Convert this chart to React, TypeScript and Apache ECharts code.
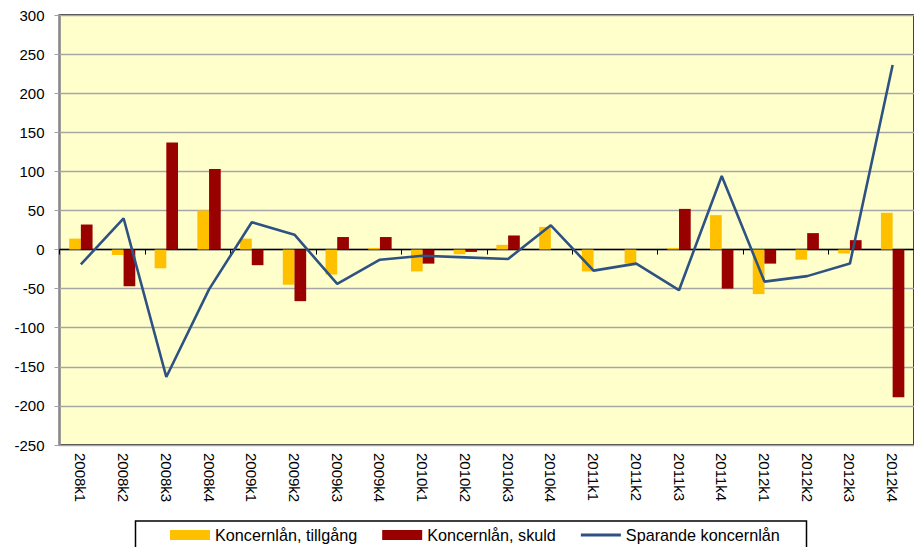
import React, { useEffect, useRef } from "react";
import * as echarts from "echarts";

const categories = [
  "2008k1", "2008k2", "2008k3", "2008k4",
  "2009k1", "2009k2", "2009k3", "2009k4",
  "2010k1", "2010k2", "2010k3", "2010k4",
  "2011k1", "2011k2", "2011k3", "2011k4",
  "2012k1", "2012k2", "2012k3", "2012k4",
];

const tillgang = [14, -7, -24, 50, 14, -45, -32, 2, -28, -6, 6, 29, -28, -18, 2, 44, -57, -13, -5, 47];
const skuld = [32, -47, 137, 103, -20, -66, 16, 16, -18, -3, 18, 0, 0, 0, 52, -50, -18, 21, 12, -189];
const sparande = [-19, 40, -163, -51, 35, 19, -44, -13, -8, -10, -12, 31, -27, -18, -52, 94, -41, -34, -18, 236];

const seriesNames = ["Koncernlån, tillgång", "Koncernlån, skuld", "Sparande koncernlån"];

const FONT = "'Liberation Sans', Arial, sans-serif";

export default function App() {
  const ref = useRef<HTMLDivElement>(null);

  useEffect(() => {
    if (!ref.current) return;
    const chart = echarts.init(ref.current, undefined, { renderer: "svg" });
    chart.setOption({
      animation: false,
      backgroundColor: "#ffffff",
      textStyle: { fontFamily: FONT },
      grid: {
        left: 59.5,
        top: 15,
        width: 864,
        height: 430,
        show: true,
        backgroundColor: "#FFFFCC",
        borderColor: "#404040",
        borderWidth: 2,
      },
      legend: {
        left: 170,
        top: 527,
        padding: 0,
        itemWidth: 40,
        itemHeight: 10,
        itemGap: 25,
        symbolKeepAspect: true,
        textStyle: { fontFamily: FONT, fontSize: 16.2, color: "#000" },
        data: [
          { name: seriesNames[0], icon: "rect" },
          { name: seriesNames[1], icon: "rect" },
          { name: seriesNames[2], icon: "path://M0,0L40,0L40,3L0,3Z" },
        ],
      },
      graphic: [
        {
          type: "rect",
          shape: { x: 135.5, y: 521, width: 671, height: 40 },
          style: { fill: "none", stroke: "#000", lineWidth: 1.5 },
          z: -1,
        },
      ],
      xAxis: [
        {
          type: "category",
          data: categories,
          position: "bottom",
          axisLine: { show: true, onZero: true, lineStyle: { color: "#000", width: 1.3 } },
          axisTick: { show: true, length: 5, lineStyle: { color: "#000" } },
          axisLabel: { show: false },
          splitLine: { show: false },
        },
        {
          type: "category",
          data: categories,
          position: "bottom",
          axisLine: { show: false, onZero: false },
          axisTick: { show: false },
          axisLabel: {
            show: true,
            rotate: -90,
            margin: 8,
            fontSize: 15,
            color: "#000",
            fontFamily: FONT,
            interval: 0,
          },
          splitLine: { show: false },
        },
      ],
      yAxis: {
        type: "value",
        min: -250,
        max: 300,
        interval: 50,
        axisLine: { show: true, lineStyle: { color: "#A0A0A0", width: 1.5 } },
        axisTick: { show: true, length: 5, lineStyle: { color: "#A0A0A0" } },
        axisLabel: { fontSize: 15, color: "#000", margin: 15, fontFamily: FONT },
        splitLine: { show: true, lineStyle: { color: "#A6A6A6", width: 1.3 } },
      },
      series: [
        {
          name: seriesNames[0],
          type: "bar",
          xAxisIndex: 0,
          data: tillgang,
          barWidth: 11.7,
          barGap: "0%",
          itemStyle: { color: "#FFC000" },
        },
        {
          name: seriesNames[1],
          type: "bar",
          xAxisIndex: 0,
          data: skuld,
          barWidth: 11.7,
          barGap: "0%",
          itemStyle: { color: "#990000" },
        },
        {
          name: seriesNames[2],
          type: "line",
          xAxisIndex: 0,
          data: sparande,
          symbol: "none",
          showSymbol: false,
          lineStyle: { color: "#2E5383", width: 2.6 },
          itemStyle: { color: "#2E5383" },
          z: 5,
        },
      ],
    });
    return () => chart.dispose();
  }, []);

  return (
    <div
      ref={ref}
      style={{ position: "absolute", left: 0, top: 0, width: 914, height: 547 }}
    />
  );
}
